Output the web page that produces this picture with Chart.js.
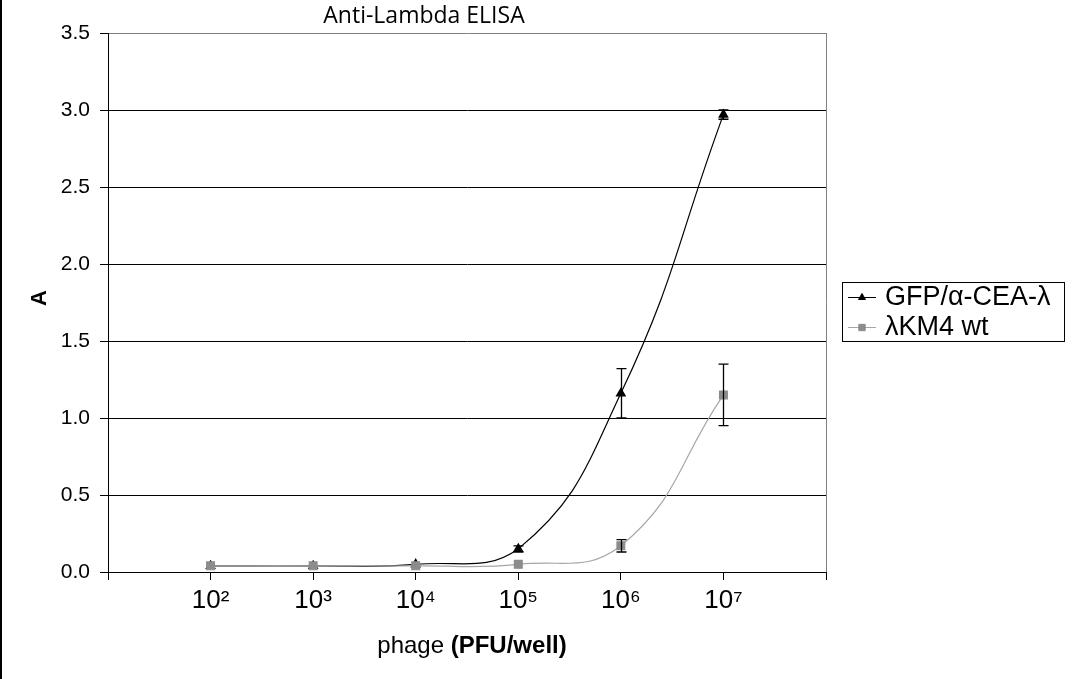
<!DOCTYPE html>
<html>
<head>
<meta charset="utf-8">
<script src="https://cdn.jsdelivr.net/npm/chart.js@4"></script>
<style>
    html, body { margin: 0; padding: 0; background: #fff; }
    #wrap { width: 1073px; height: 679px; position: relative; }
    #wrap::before { content: ''; position: absolute; left: 0; top: 0; bottom: 0; width: 2px; background: #000; }
</style>
</head>
<body>
<div id="wrap"><canvas id="myChart" width="1073" height="679"></canvas></div>
<script>
(function(){
    'use strict';

    // log10 of phage per well
    const exponents = [2, 3, 4, 5, 6, 7];
    const superscripts = {2: '\u00B2', 3: '\u00B3', 4: '\u2074', 5: '\u2075', 6: '\u2076', 7: '\u2077'};

    const gfpValues = [0.04, 0.04, 0.05, 0.15, 1.16, 2.97];
    const gfpErrors = [0, 0, 0, 0.02, 0.16, 0.03];

    const wtValues = [0.04, 0.04, 0.04, 0.05, 0.17, 1.15];
    const wtErrors = [0, 0, 0, 0, 0.04, 0.2];

    const yTicks = [0, 0.5, 1.0, 1.5, 2.0, 2.5, 3.0, 3.5];

    const ctx = document.querySelector('#myChart');

    function toPoints(values){
        return values.map(function(v, i){ return {x: exponents[i], y: v}; });
    }

    // error bars, drawn through the chart scales
    const errorBars = {
        id: 'errorBars',
        afterDatasetsDraw(chart){
            const c = chart.ctx;
            const xs = chart.scales.x;
            const ys = chart.scales.y;
            c.save();
            c.strokeStyle = '#000';
            c.lineWidth = 1.3;
            chart.data.datasets.forEach(function(ds){
                ds.errors.forEach(function(e, i){
                    if (!e) return;
                    const px = Math.round(xs.getPixelForValue(ds.data[i].x)) + 0.5;
                    const top = ys.getPixelForValue(ds.data[i].y + e);
                    const bot = ys.getPixelForValue(ds.data[i].y - e);
                    c.beginPath();
                    c.moveTo(px, top); c.lineTo(px, bot);
                    c.moveTo(px - 5, top); c.lineTo(px + 5, top);
                    c.moveTo(px - 5, bot); c.lineTo(px + 5, bot);
                    c.stroke();
                });
            });
            c.restore();
        }
    };

    // title, axis titles and boxed legend
    const decorations = {
        id: 'decorations',
        afterDraw(chart){
            const c = chart.ctx;
            c.save();
            c.fillStyle = '#000';
            c.textBaseline = 'middle';

            c.font = '23px "Open Sans", sans-serif';
            c.textAlign = 'center';
            c.fillText('Anti-Lambda ELISA', 424, 16);

            c.save();
            c.translate(40, 298);
            c.rotate(-Math.PI / 2);
            c.font = 'bold 22px "Liberation Sans", Arial, sans-serif';
            c.fillText('A', 0, 0);
            c.restore();

            const part1 = 'phage ';
            const part2 = '(PFU/well)';
            c.font = '24px "Liberation Sans Narrow", "Liberation Sans", sans-serif';
            const w1 = c.measureText(part1).width;
            c.font = 'bold 24px "Liberation Sans Narrow", "Liberation Sans", sans-serif';
            const w2 = c.measureText(part2).width;
            let sx = 472 - (w1 + w2) / 2;
            c.textAlign = 'left';
            c.font = '24px "Liberation Sans Narrow", "Liberation Sans", sans-serif';
            c.fillText(part1, sx, 646);
            c.font = 'bold 24px "Liberation Sans Narrow", "Liberation Sans", sans-serif';
            c.fillText(part2, sx + w1, 646);

            // legend
            c.strokeStyle = '#000';
            c.lineWidth = 1;
            c.strokeRect(842.5, 282.5, 222, 59);
            c.font = '27px "Liberation Sans", Arial, sans-serif';
            chart.data.datasets.forEach(function(ds, i){
                const y = 297 + i * 30;
                c.strokeStyle = ds.borderColor;
                c.lineWidth = 1;
                c.beginPath();
                c.moveTo(848, y + 0.5); c.lineTo(876, y + 0.5);
                c.stroke();
                c.fillStyle = ds.pointBackgroundColor;
                c.strokeStyle = ds.pointBorderColor;
                Chart.helpers.drawPoint(c, {pointStyle: ds.pointStyle, radius: ds.pointRadius - 1, rotation: 0, borderWidth: 1}, 862, y + 0.5);
                c.fillStyle = '#000';
                c.fillText(ds.label, 885, y + 1);
            });
            c.restore();
        }
    };

    new Chart(ctx, {
        type: 'line',
        data: {
            datasets: [
                {
                    label: 'GFP/\u03B1-CEA-\u03BB',
                    data: toPoints(gfpValues),
                    errors: gfpErrors,
                    borderColor: '#000',
                    borderWidth: 1.2,
                    pointStyle: 'triangle',
                    pointRadius: 5,
                    pointBackgroundColor: '#000',
                    pointBorderColor: '#000',
                    tension: 0.45,
                    order: 1
                },
                {
                    label: '\u03BBKM4 wt',
                    data: toPoints(wtValues),
                    errors: wtErrors,
                    borderColor: '#a6a6a6',
                    borderWidth: 1.2,
                    pointStyle: 'rect',
                    pointRadius: 5.5,
                    pointBackgroundColor: '#8c8c8c',
                    pointBorderColor: '#8c8c8c',
                    tension: 0.45,
                    order: 0
                }
            ]
        },
        options: {
            responsive: false,
            animation: false,
            layout: { padding: { top: 33, right: 247, left: 0, bottom: 0 } },
            plugins: {
                legend: { display: false },
                tooltip: { enabled: false }
            },
            scales: {
                x: {
                    type: 'linear',
                    min: 1,
                    max: 8,
                    afterBuildTicks(scale){
                        scale.ticks = [1, 2, 3, 4, 5, 6, 7, 8].map(function(v){ return {value: v}; });
                    },
                    afterFit(scale){ scale.height = 107; },
                    border: { color: '#000', width: 1 },
                    grid: {
                        color: function(c){ return c.tick && c.tick.value === 8 ? '#808080' : 'rgba(0,0,0,0)'; },
                        tickColor: '#000',
                        tickLength: 8,
                        drawOnChartArea: true
                    },
                    ticks: {
                        color: '#000',
                        padding: 5,
                        maxRotation: 0,
                        autoSkip: false,
                        font: { family: '"Liberation Sans Narrow", "Liberation Sans", sans-serif', size: 26 },
                        callback: function(v){ return superscripts[v] ? '10' + superscripts[v] : ''; }
                    }
                },
                y: {
                    min: 0,
                    max: 3.5,
                    afterBuildTicks(scale){
                        scale.ticks = yTicks.map(function(v){ return {value: v}; });
                    },
                    afterFit(scale){ scale.width = 108; },
                    border: { color: '#000', width: 1 },
                    grid: {
                        color: function(c){ return c.tick && c.tick.value === 3.5 ? '#808080' : '#000'; },
                        tickColor: '#000',
                        tickLength: 8
                    },
                    ticks: {
                        color: '#000',
                        padding: 10,
                        font: { family: '"Liberation Sans", Arial, sans-serif', size: 21 },
                        callback: function(v){ return v.toFixed(1); }
                    }
                }
            }
        },
        plugins: [errorBars, decorations]
    });
})();
</script>
</body>
</html>
